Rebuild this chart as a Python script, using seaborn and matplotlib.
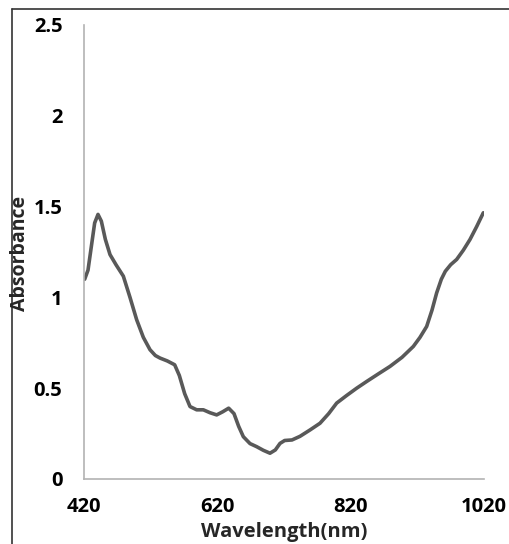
import numpy as np
import pandas as pd
import seaborn as sns
import matplotlib.pyplot as plt
from matplotlib.lines import Line2D

# Absorbance spectrum
wavelength = [421, 426, 431, 436, 441, 446, 452, 459, 468, 479, 489, 499, 509, 519,
              527, 534, 545, 556, 563, 571, 579, 589, 599, 609, 619, 628, 637, 645,
              652, 659, 669, 679, 689, 699, 707, 714, 721, 732, 744, 759, 774, 787,
              799, 814, 829, 844, 862, 879, 897, 914, 924, 934, 942, 949, 956, 962,
              970, 979, 989, 999, 1009, 1019]
absorbance = [1.10, 1.15, 1.28, 1.41, 1.457, 1.42, 1.32, 1.236, 1.18, 1.117, 1.00, 0.877,
              0.78, 0.712, 0.68, 0.666, 0.65, 0.629, 0.57, 0.47, 0.399, 0.381, 0.381,
              0.365, 0.353, 0.37, 0.390, 0.36, 0.29, 0.233, 0.195, 0.178, 0.158, 0.142,
              0.16, 0.196, 0.212, 0.215, 0.235, 0.27, 0.307, 0.36, 0.418, 0.46, 0.50,
              0.537, 0.58, 0.620, 0.67, 0.730, 0.78, 0.840, 0.93, 1.025, 1.10, 1.144,
              1.18, 1.209, 1.26, 1.319, 1.39, 1.466]

x_ticks = [420, 620, 820, 1020]
y_ticks = [0, 0.5, 1, 1.5, 2, 2.5]
y_tick_labels = ["0", "0.5", "1", "1.5", "2", "2.5"]

df = pd.DataFrame({"wavelength": wavelength, "absorbance": absorbance})

sns.set_style("white")
plt.rcParams['font.family'] = ['Open Sans', 'DejaVu Sans']

fig = plt.figure(figsize=(5.09, 5.44), dpi=100)
ax = fig.add_axes([84 / 509, 1 - 479 / 544, 400 / 509, 454 / 544])

sns.lineplot(data=df, x="wavelength", y="absorbance", ax=ax, color="#595959", linewidth=2.6)

ax.set_xlim(420, 1020)
ax.set_ylim(0, 2.5)
ax.set_xticks(x_ticks)
ax.set_yticks(y_ticks)
ax.set_yticklabels(y_tick_labels)
ax.tick_params(axis="both", length=0, labelsize=14.5, colors="black")
ax.tick_params(axis="x", pad=13)
ax.tick_params(axis="y", pad=15.5)
for lab in ax.get_xticklabels() + ax.get_yticklabels():
    lab.set_fontweight("bold")

for side in ["top", "right"]:
    ax.spines[side].set_visible(False)
for side in ["left", "bottom"]:
    ax.spines[side].set_color("#b3b3b3")
    ax.spines[side].set_linewidth(1.2)

ax.set_xlabel("")
ax.set_ylabel("")
fig.text(284 / 509, 1 - 532 / 544, "Wavelength(nm)", ha="center", va="center",
         fontsize=14.5, fontweight="bold")
fig.text(20 / 509, 1 - 253 / 544, "Absorbance", ha="center", va="center",
         rotation=90, fontsize=14, fontweight="bold")

# partial frame around the chart area (left and top edges)
fig.add_artist(Line2D([12 / 509, 12 / 509], [0, 1 - 9 / 544], color="#333333", linewidth=1.2))
fig.add_artist(Line2D([12 / 509, 1], [1 - 9 / 544, 1 - 9 / 544], color="#333333", linewidth=1.2))

fig.savefig("out.png", dpi=100)
